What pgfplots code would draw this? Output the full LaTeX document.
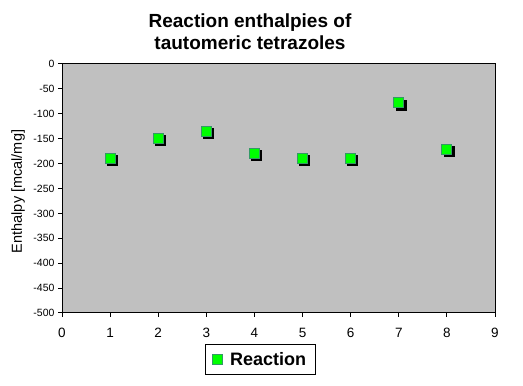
\documentclass[border=0pt]{standalone}
\usepackage{fontspec}
\setmainfont{Liberation Sans}
\usepackage{pgfplots}
\pgfplotsset{compat=1.18}
\definecolor{plotgrey}{HTML}{C0C0C0}
\definecolor{markgreen}{HTML}{00FF00}
\definecolor{markedge}{HTML}{339966}
\begin{document}
\begin{tikzpicture}
\path[use as bounding box] (0,0) rectangle (523bp,386bp);
\node[anchor=base,font=\fontsize{19bp}{22bp}\selectfont\bfseries] at (250bp,358bp) {Reaction enthalpies of};
\node[anchor=base,font=\fontsize{19bp}{22bp}\selectfont\bfseries] at (250bp,336bp) {tautomeric tetrazoles};
\begin{axis}[
  at={(62bp,73bp)}, anchor=south west,
  scale only axis, width=433bp, height=249bp,
  xmin=0, xmax=9, ymin=-500, ymax=0,
  xtick={0,1,...,9}, ytick={-500,-450,...,0},
  axis background/.style={fill=plotgrey},
  axis line style={line width=1bp, black},
  tick style={line width=1bp, black},
  tick align=outside, major tick length=4bp,
  xtick pos=bottom, ytick pos=left,
  /pgf/number format/assume math mode=true,
  yticklabel style={font=\fontsize{10.5bp}{12bp}\selectfont},
  xticklabel style={font=\fontsize{13.5bp}{16bp}\selectfont, yshift=-8bp},
  ylabel={Enthalpy [mcal/mg]},
  ylabel style={at={(axis description cs:-0.1016,0.488)}, anchor=center, font=\fontsize{14.5bp}{17bp}\selectfont},
  legend style={at={(0.4573,-0.1245)}, anchor=north, draw=black, line width=1bp, fill=white,
    font=\fontsize{18bp}{21bp}\selectfont\bfseries, inner xsep=7bp, inner ysep=5.5bp},
  legend cell align=left,
]
\addplot[only marks, mark=square*, mark size=5bp, forget plot,
  mark options={fill=black, draw=black, xshift=2bp, yshift=-2bp}]
  coordinates {(1,-190) (2,-149) (3,-135) (4,-180) (5,-190) (6,-190) (7,-78) (8,-171)};
\addplot[only marks, mark=square*, mark size=5bp,
  mark options={fill=markgreen, draw=markedge, line width=1bp}]
  coordinates {(1,-190) (2,-149) (3,-135) (4,-180) (5,-190) (6,-190) (7,-78) (8,-171)};
\addlegendentry{\hspace{6bp}Reaction}
\end{axis}
\end{tikzpicture}
\end{document}
